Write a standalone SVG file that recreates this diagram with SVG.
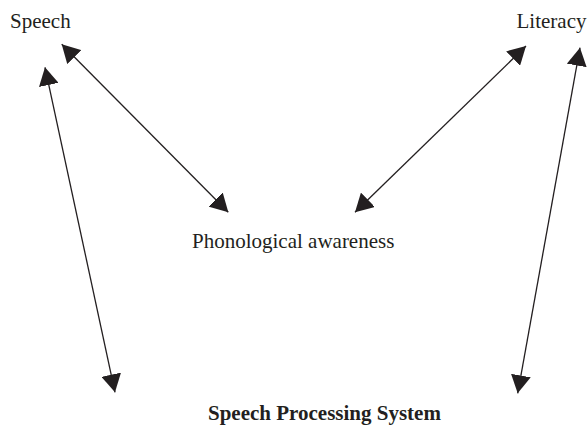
<svg xmlns="http://www.w3.org/2000/svg" width="587" height="425" viewBox="0 0 587 425">
  <style>
    .label { font-family: "Liberation Serif", "Times New Roman", serif; font-size: 21px; fill: #231f20; }
    .bold { font-weight: bold; }
    .link { stroke: #231f20; stroke-width: 1.3; fill: none; }
  </style>
  <defs>
    <marker id="head" viewBox="0 0 18 20" refX="18" refY="10" markerWidth="18" markerHeight="20" markerUnits="userSpaceOnUse" orient="auto-start-reverse">
      <path d="M0,0 L18,10 L0,20 Z" fill="#231f20"/>
    </marker>
  </defs>
  <rect width="587" height="425" fill="#ffffff"/>

  <g id="connectors">
    <line class="link" x1="61.7" y1="44.3" x2="228.3" y2="212.3" marker-start="url(#head)" marker-end="url(#head)"/>
    <line class="link" x1="45" y1="67.3" x2="115" y2="392.3" marker-start="url(#head)" marker-end="url(#head)"/>
    <line class="link" x1="526" y1="46" x2="355" y2="212.3" marker-start="url(#head)" marker-end="url(#head)"/>
    <line class="link" x1="580" y1="47.7" x2="517.7" y2="393.3" marker-start="url(#head)" marker-end="url(#head)"/>
  </g>

  <g id="speech">
    <text class="label" x="10" y="28">Speech</text>
  </g>
  <g id="literacy">
    <text class="label" x="586.5" y="28" text-anchor="end">Literacy</text>
  </g>
  <g id="phonological-awareness">
    <text class="label" x="192" y="248">Phonological awareness</text>
  </g>
  <g id="speech-processing-system">
    <text class="label bold" x="208" y="420">Speech Processing System</text>
  </g>
</svg>
